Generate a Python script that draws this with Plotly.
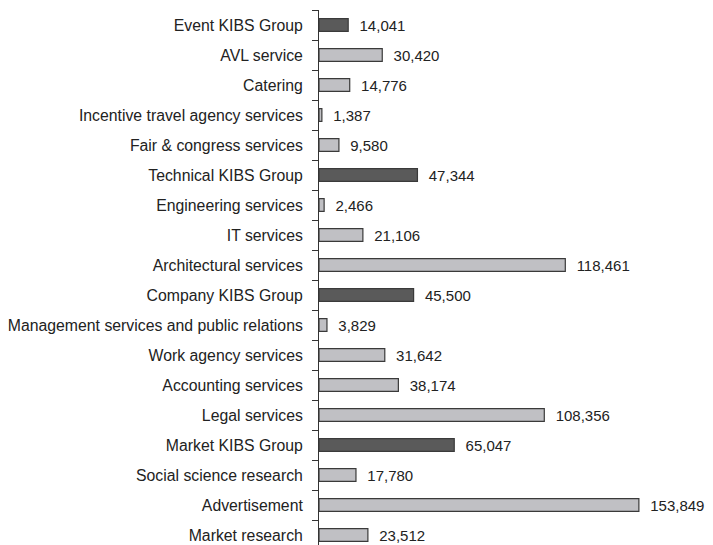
import plotly.graph_objects as go

categories = ["Market research", "Advertisement", "Social science research", "Market KIBS Group",
              "Legal services", "Accounting services", "Work agency services",
              "Management services and public relations", "Company KIBS Group",
              "Architectural services", "IT services", "Engineering services", "Technical KIBS Group",
              "Fair & congress services", "Incentive travel agency services", "Catering",
              "AVL service", "Event KIBS Group"]
values = [23512, 153849, 17780, 65047, 108356, 38174, 31642, 3829, 45500,
          118461, 21106, 2466, 47344, 9580, 1387, 14776, 30420, 14041]

colors = ["#5a5a5a" if "Group" in c else "#c0c0c4" for c in categories]
labels = ["  " + f"{v:,}" for v in values]

fig = go.Figure(go.Bar(
    y=categories, x=values, orientation="h",
    marker=dict(color=colors, line=dict(color="#3a3a3a", width=1.2)),
    text=labels, textposition="outside", cliponaxis=False, constraintext="none",
    textfont=dict(family="Liberation Sans, Arial", size=15, color="#222"),
    width=0.43,
))
fig.update_layout(
    width=705, height=537,
    margin=dict(l=311, r=0, t=2, b=0, autoexpand=False),
    plot_bgcolor="white", paper_bgcolor="white",
    showlegend=False,
    font=dict(family="Liberation Sans, Arial", size=15.8, color="#222"),
)
fig.update_xaxes(range=[0, 189500], visible=False, automargin=False)
fig.update_yaxes(range=[-0.333, 17.5], showline=True, linecolor="#333", linewidth=1,
                 ticks="outside", tickson="boundaries", ticklen=6, tickcolor="#333",
                 ticklabelstandoff=12, showgrid=False, automargin=False,
                 tickfont=dict(family="Liberation Sans, Arial", size=15.8, color="#222"))
fig.write_html("out.html")
